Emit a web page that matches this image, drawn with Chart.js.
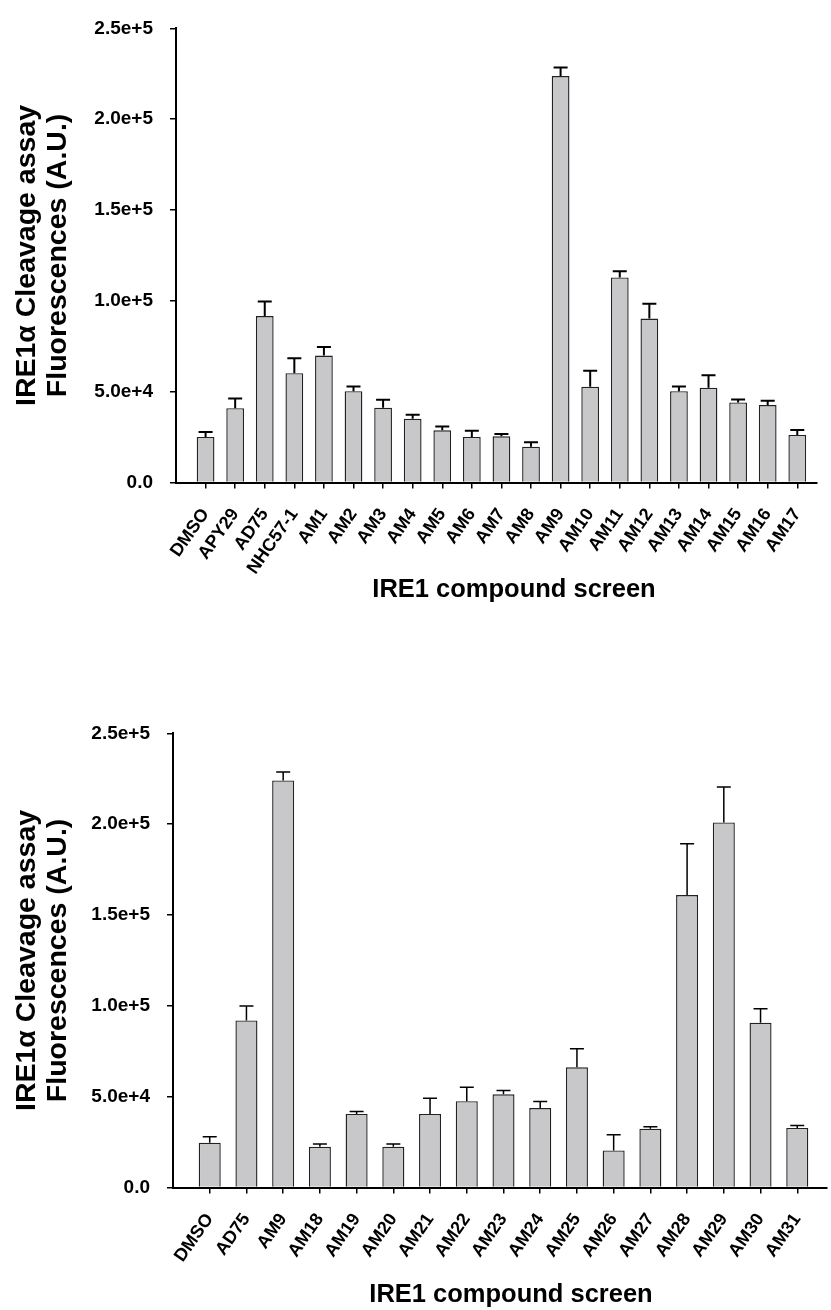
<!DOCTYPE html>
<html>
<head>
<meta charset="utf-8">
<script src="https://cdn.jsdelivr.net/npm/chart.js@4"></script>
<style>
  html, body { margin: 0; padding: 0; background: #ffffff; }
  body { width: 831px; height: 1310px; position: relative; overflow: hidden; }
  .wrap { position: absolute; left: 0; width: 831px; height: 605px; }
</style>
</head>
<body>
<div class="wrap" style="top:0px"><canvas id="c1" width="831" height="605"></canvas></div>
<div class="wrap" style="top:705px"><canvas id="c2" width="831" height="605"></canvas></div>
<script>
// ---- Data ----
const categoriesTop = ['DMSO','APY29','AD75','NHC57-1','AM1','AM2','AM3','AM4','AM5','AM6','AM7','AM8','AM9','AM10','AM11','AM12','AM13','AM14','AM15','AM16','AM17'];
const valuesTop = [25100, 40900, 91600, 60200, 69900, 50300, 41200, 35100, 28700, 25100, 25400, 19700, 223800, 52700, 112900, 90300, 50300, 52200, 44100, 42600, 26200];
const errorsTop = [2700, 5300, 8000, 8200, 4700, 2500, 4300, 2200, 2100, 3400, 1300, 2500, 4700, 8800, 3400, 8100, 2500, 6900, 1600, 2400, 2700];

const categoriesBottom = ['DMSO','AD75','AM9','AM18','AM19','AM20','AM21','AM22','AM23','AM24','AM25','AM26','AM27','AM28','AM29','AM30','AM31'];
const valuesBottom = [24700, 92000, 224100, 22400, 40500, 22400, 40500, 47500, 51300, 43700, 66200, 20400, 32400, 161000, 201000, 90700, 32800];
const errorsBottom = [3300, 7900, 4700, 1600, 1300, 1600, 8600, 7700, 2100, 3600, 10200, 8600, 1100, 28300, 19500, 7700, 1300];

const yTickValues = [0, 50000, 100000, 150000, 200000, 250000];
const yTickLabels = ['0.0', '5.0e+4', '1.0e+5', '1.5e+5', '2.0e+5', '2.5e+5'];

const xTitle = 'IRE1 compound screen';
const yTitle = ['IRE1\u03b1 Cleavage assay', 'Fluorescences (A.U.)'];

// ---- Rendering ----
const FAMILY = '"Liberation Sans", Arial, Helvetica, sans-serif';

const errorBarPlugin = {
  id: 'errorBars',
  afterDatasetsDraw(chart, args, opts) {
    const meta = chart.getDatasetMeta(0);
    const ys = chart.scales.y;
    const ctx = chart.ctx;
    ctx.save();
    ctx.strokeStyle = opts.color || '#000';
    ctx.lineWidth = opts.lineWidth || 1.5;
    meta.data.forEach((bar, i) => {
      const v = opts.values[i], e = opts.errors[i];
      const x = bar.x;
      const y0 = ys.getPixelForValue(v);
      const y1 = ys.getPixelForValue(v + e);
      ctx.beginPath();
      ctx.moveTo(x, y0);
      ctx.lineTo(x, y1);
      ctx.moveTo(x - opts.capWidth / 2, y1);
      ctx.lineTo(x + opts.capWidth / 2, y1);
      ctx.stroke();
    });
    ctx.restore();
  }
};

// x-axis title drawn at a fixed centre (the original figure is not centred on the plot area)
const xTitlePlugin = {
  id: 'xTitleText',
  afterDraw(chart, args, opts) {
    const ctx = chart.ctx;
    ctx.save();
    ctx.fillStyle = '#000';
    ctx.font = 'bold ' + opts.size + 'px ' + FAMILY;
    ctx.textAlign = 'center';
    ctx.textBaseline = 'middle';
    ctx.fillText(opts.text, opts.cx, opts.cy);
    ctx.restore();
  }
};

function makeChart(id, cats, vals, errs, cfg) {
  return new Chart(document.getElementById(id), {
    type: 'bar',
    data: {
      datasets: [{
        data: vals.map((v, i) => ({ x: i, y: v })),
        backgroundColor: '#c8c8ca',
        borderColor: '#222222',
        borderWidth: 1.4,
        borderSkipped: 'bottom',
        barPercentage: 0.6,
        categoryPercentage: 1.0
      }]
    },
    options: {
      responsive: false,
      animation: false,
      devicePixelRatio: 1,
      layout: { padding: { left: 0, right: 1, top: 17.5, bottom: 0 } },
      plugins: {
        legend: { display: false },
        tooltip: { enabled: false },
        errorBars: { values: vals, errors: errs, capWidth: cfg.capWidth, lineWidth: cfg.errWidth, color: '#000' },
        xTitleText: { text: xTitle, size: 25.5, cx: cfg.titleX, cy: 589.5 }
      },
      scales: {
        x: {
          type: 'linear',
          min: -1,
          max: cfg.xMax,
          offset: false,
          afterBuildTicks: s => { s.ticks = cats.map((c, i) => ({ value: i })); },
          afterFit: s => { s.height = 122.5; },
          ticks: {
            autoSkip: false,
            minRotation: 55,
            maxRotation: 55,
            padding: 16,
            color: '#000',
            font: { family: FAMILY, size: 18, weight: 'bold' },
            callback: (v) => cats[v]
          },
          grid: { display: true, offset: false, drawOnChartArea: false, drawTicks: true, tickLength: 6, color: '#000', lineWidth: 1.5 },
          border: { display: true, color: '#000', width: 2 },
          title: { display: false }
        },
        y: {
          min: 0,
          max: 250000,
          afterBuildTicks: s => { s.ticks = yTickValues.map(v => ({ value: v })); },
          afterFit: s => { s.width = cfg.yWidth; },
          ticks: {
            padding: 17,
            color: '#000',
            font: { family: FAMILY, size: 19, weight: 'bold' },
            callback: (v, i) => yTickLabels[i]
          },
          grid: { display: true, offset: false, drawOnChartArea: false, drawTicks: true, tickLength: 6, color: '#000', lineWidth: 1.5 },
          border: { display: true, color: '#000', width: 2 },
          title: {
            display: true,
            text: yTitle,
            color: '#000',
            font: { family: FAMILY, size: 28.5, weight: 'bold', lineHeight: 31 / 28.5 },
            padding: { top: 11.5, bottom: 0 }
          }
        }
      }
    },
    plugins: [errorBarPlugin, xTitlePlugin]
  });
}

makeChart('c1', categoriesTop, valuesTop, errorsTop, { xMax: 20.66, yWidth: 176, capWidth: 14, errWidth: 2, titleX: 514 });
makeChart('c2', categoriesBottom, valuesBottom, errorsBottom, { xMax: 16.8, yWidth: 173, capWidth: 14, errWidth: 1.5, titleX: 511 });
</script>
</body>
</html>
